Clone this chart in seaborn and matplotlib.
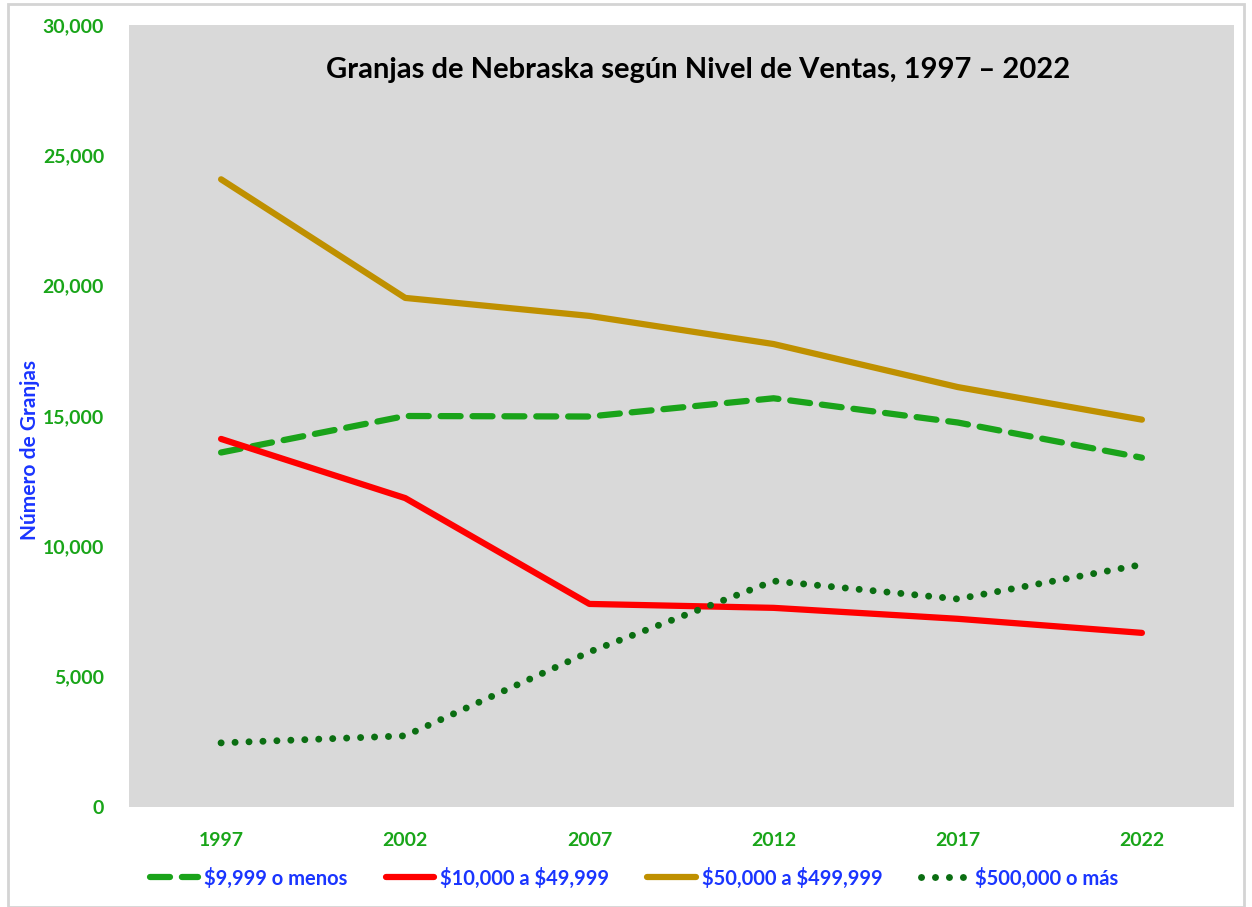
import numpy as np
import pandas as pd
import matplotlib
matplotlib.use('Agg')
import matplotlib.pyplot as plt
import seaborn as sns
from matplotlib.patches import Rectangle

# ── DATA ──
years = ['1997', '2002', '2007', '2012', '2017', '2022']
series_names = ['$9,999 o menos', '$10,000 a $49,999', '$50,000 a $499,999', '$500,000 o más']
small   = [13600, 15000, 14980, 15680, 14750, 13400]
low_mid = [14120, 11850, 7790, 7640, 7220, 6680]
mid     = [24080, 19530, 18840, 17760, 16110, 14860]
large   = [2460, 2730, 5950, 8670, 7980, 9300]

C = {'dash_green': '#1AA31A', 'red': '#FF0000', 'gold': '#BF9000',
     'dot_green': '#0B6E12', 'tick': '#19A519', 'blue': '#1A35FF', 'bg': '#D9D9D9'}

df = pd.DataFrame({
    'x': list(range(len(years))) * 4,
    'value': small + low_mid + mid + large,
    'serie': np.repeat(series_names, len(years)),
})

sns.set_style('white')
plt.rcParams['font.family'] = ['Lato', 'DejaVu Sans']

fig = plt.figure(figsize=(12.52, 9.07), dpi=100)
ax = fig.add_axes([129/1252, 1 - 807/907, (1234-129)/1252, (807-25)/907])
ax.set_facecolor(C['bg'])

styles = {
    series_names[0]: dict(color=C['dash_green'], lw=4.5, ls=(0, (3.2, 1.9))),
    series_names[1]: dict(color=C['red'], lw=4.5, ls='-'),
    series_names[2]: dict(color=C['gold'], lw=4.5, ls='-'),
    series_names[3]: dict(color=C['dot_green'], lw=5, ls=(0, (0.01, 2.0))),
}

for name in series_names:
    st = styles[name]
    sns.lineplot(data=df[df['serie'] == name], x='x', y='value', ax=ax,
                 color=st['color'], linewidth=st['lw'], linestyle=st['ls'],
                 label=name.replace('$', r'\$'),
                 solid_capstyle='round', dash_capstyle='round')

ax.set_xlim(-0.5, 5.5)
ax.set_ylim(0, 30000)
ax.set_xticks(range(len(years)))
ax.set_xticklabels(years)
ax.set_yticks(range(0, 30001, 5000))
ax.set_yticklabels([f'{v:,}' for v in range(0, 30001, 5000)])
ax.tick_params(axis='both', length=0, labelsize=14, labelcolor=C['tick'])
ax.tick_params(axis='x', pad=18)
ax.tick_params(axis='y', pad=18)
for lab in ax.get_xticklabels() + ax.get_yticklabels():
    lab.set_fontweight('bold')
for s in ax.spines.values():
    s.set_visible(False)
ax.set_xlabel('')
ax.set_ylabel('')

ax.text(0.515, 0.942, 'Granjas de Nebraska según Nivel de Ventas, 1997 – 2022',
        transform=ax.transAxes, ha='center', va='center', fontsize=21,
        fontweight='bold', color='black')

fig.text(30/1252, 1 - 450/907, 'Número de Granjas', rotation=90, ha='center',
         va='center', fontsize=15, fontweight='bold', color=C['blue'])

leg = ax.legend(loc='center', bbox_to_anchor=(634/1252, 1 - 878/907),
                bbox_transform=fig.transFigure, ncol=4, frameon=False,
                fontsize=14.5, handlelength=2.4, handletextpad=0.3,
                columnspacing=1.9)
for t in leg.get_texts():
    t.set_color(C['blue'])
    t.set_fontweight('bold')

# light outer frame
fig.patches.append(Rectangle((8/1252, 0.0), 1 - 16/1252, 1 - 4/907,
                             transform=fig.transFigure, fill=False,
                             edgecolor='#D4D4D4', linewidth=2))

fig.savefig('out.png', dpi=100, facecolor='white')
